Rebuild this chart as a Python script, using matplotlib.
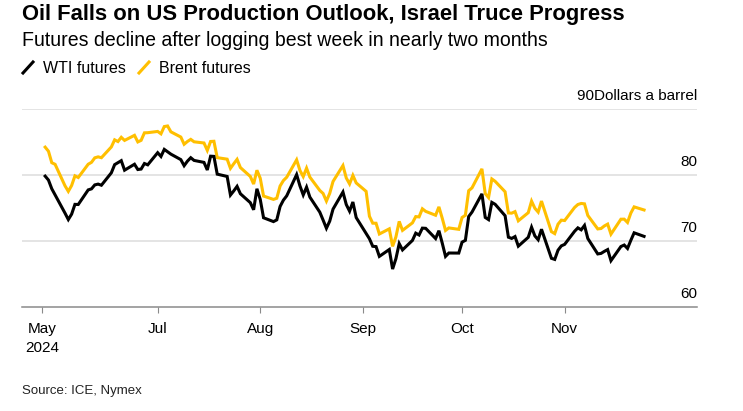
"""WTI vs Brent front-month futures, late May to late Nov 2024 (Bloomberg-style line chart)."""

import matplotlib

matplotlib.use("Agg")
import matplotlib.dates as mdates
import matplotlib.pyplot as plt
import matplotlib.transforms as mtransforms
import pandas as pd
from matplotlib.lines import Line2D

W, H = 743, 411

# ICE Brent trades on US holidays, Nymex WTI does not settle on them
us_holidays = ["2024-06-19", "2024-07-04", "2024-09-02"]
brent_dates = pd.bdate_range("2024-05-28", "2024-11-25")
wti_dates = brent_dates.drop(pd.to_datetime(us_holidays))

wti = [
    79.83, 79.23, 77.91, 76.99,                                     # May
    74.22, 73.25, 74.07, 75.55, 75.53, 77.74, 77.90, 78.50, 78.62,
    78.45, 80.33, 81.57, 82.17, 80.73, 81.63, 80.83, 80.90, 81.74,
    81.54,                                                          # Jun
    83.38, 82.81, 83.88, 83.16, 82.33, 81.41, 82.10, 82.62, 82.21,
    81.91, 80.76, 82.85, 82.82, 80.13, 79.78, 76.96, 77.59, 78.28,
    77.16, 75.81, 74.73, 77.91,                                     # Jul
    76.31, 73.52, 72.94, 73.20, 75.23, 76.19, 76.84, 80.06, 78.35,
    76.98, 78.16, 76.65, 74.37, 73.17, 71.93, 73.01, 74.83, 77.42,
    75.53, 74.52, 75.91, 73.55,                                     # Aug
    70.34, 69.20, 69.15, 67.67, 68.71, 65.75, 67.31, 69.60, 68.65,
    70.09, 71.19, 70.91, 71.95, 71.92, 70.37, 71.56, 69.69, 67.67,
    68.18, 68.17,                                                   # Sep
    69.83, 70.10, 73.71, 74.38, 77.14, 73.57, 73.24, 75.85, 75.56,
    73.83, 70.58, 70.39, 70.67, 69.22, 70.56, 72.09, 70.77, 70.19,
    71.78, 67.38, 67.21, 68.61, 69.26,                              # Oct
    69.49, 71.47, 71.99, 71.69, 72.36, 70.38, 68.04, 68.12, 68.43,
    68.70, 67.02, 69.16, 69.39, 68.87, 70.10, 71.24, 70.70,         # Nov
]

brent = [
    84.22, 83.60, 81.86, 81.62,                                     # May
    78.36, 77.52, 78.41, 79.87, 79.62, 81.63, 81.92, 82.60, 82.75,
    82.62, 84.25, 85.33, 85.07, 85.71, 85.24, 86.01, 85.01, 85.25,
    86.39, 86.41,                                                   # Jun
    86.60, 86.24, 87.34, 87.43, 86.54, 85.75, 84.66, 85.08, 85.40,
    85.03, 84.85, 83.73, 85.08, 85.11, 82.63, 82.40, 81.01, 81.71,
    82.37, 81.13, 79.78, 78.63, 80.72,                              # Jul
    79.52, 76.81, 76.30, 76.48, 78.33, 79.16, 79.66, 82.30, 80.69,
    79.76, 81.04, 79.68, 77.66, 77.20, 76.05, 77.22, 79.02, 81.43,
    79.55, 78.65, 79.94, 78.80,                                     # Aug
    77.52, 73.75, 72.70, 72.69, 71.06, 71.84, 69.19, 70.61, 72.97,
    71.61, 72.75, 73.70, 73.65, 74.88, 74.49, 73.90, 75.17, 73.46,
    71.60, 71.98, 71.77,                                            # Sep
    73.56, 73.90, 77.62, 78.05, 80.93, 77.18, 76.58, 79.40, 79.04,
    77.46, 74.25, 74.22, 74.45, 73.06, 74.29, 76.04, 74.96, 74.38,
    76.05, 71.42, 71.12, 72.55, 73.16,                              # Oct
    73.10, 75.08, 75.53, 75.69, 75.63, 73.87, 71.83, 71.89, 72.28,
    72.56, 71.04, 73.30, 73.31, 72.81, 74.23, 75.17, 74.70,         # Nov
]

y_ticks = [60, 70, 80, 90]
y_unit = "Dollars a barrel"
month_ticks = ["2024-05-27", "2024-07-01", "2024-08-01", "2024-09-01",
               "2024-10-01", "2024-11-01"]
month_labels = ["May\n2024", "Jul", "Aug", "Sep", "Oct", "Nov"]

WTI_COLOR = "#000000"
BRENT_COLOR = "#FFBF00"
GRID = "#dcdcdc"
BASE = "#8a8a8a"
FONT = "Liberation Sans"
LW = 2.2


def px(x, y):
    """Pixel position (from top-left) to figure fraction."""
    return x / W, 1 - y / H


def fit_width(fig, txt, target):
    w = txt.get_window_extent(fig.canvas.get_renderer()).width
    txt.set_fontsize(txt.get_fontsize() * target / w)


def main():
    assert len(wti) == len(wti_dates) and len(brent) == len(brent_dates)
    plt.rcParams["font.family"] = [FONT, "DejaVu Sans"]
    fig = plt.figure(figsize=(W / 100, H / 100), dpi=100)

    left, right, top, bottom = 22, 697, 109, 307
    ax = fig.add_axes([left / W, 1 - bottom / H, (right - left) / W, (bottom - top) / H])
    ax.plot(wti_dates, wti, color=WTI_COLOR, lw=LW, solid_joinstyle="miter", zorder=3)
    ax.plot(brent_dates, brent, color=BRENT_COLOR, lw=LW, solid_joinstyle="miter", zorder=2)

    ax.set_ylim(60, 90)
    ax.set_xlim(pd.Timestamp("2024-05-21"), pd.Timestamp("2024-12-11"))
    for side in ("top", "right", "left"):
        ax.spines[side].set_visible(False)
    ax.spines["bottom"].set_color(BASE)
    ax.spines["bottom"].set_linewidth(1.1)
    for v in y_ticks[1:]:
        ax.axhline(v, color=GRID, lw=1.1, zorder=0)
    ax.set_yticks([])

    ax.set_xticks(mdates.date2num(pd.to_datetime(month_ticks)))
    ax.set_xticklabels(month_labels, fontsize=11, linespacing=1.45)
    ax.tick_params(axis="x", direction="out", length=4, width=0.8, color=BASE, pad=7)

    # right-side value labels, sitting just above their gridlines
    lab_tr = mtransforms.offset_copy(ax.get_yaxis_transform(), fig=fig, y=9, units="dots")
    for v in y_ticks:
        label = f"{v}{y_unit}" if v == y_ticks[-1] else str(v)
        ax.text(1.0, v, label, transform=lab_tr, ha="right", va="baseline", fontsize=11)

    title = fig.text(*px(22, 20), "Oil Falls on US Production Outlook, Israel Truce Progress",
                     fontsize=14, fontweight="bold", va="baseline")
    sub = fig.text(*px(22, 46), "Futures decline after logging best week in nearly two months",
                   fontsize=12.5, va="baseline")
    fit_width(fig, title, 605)
    fit_width(fig, sub, 526)

    # legend: slanted strokes + labels
    for x0, color, label in ((23, WTI_COLOR, "WTI futures"), (139, BRENT_COLOR, "Brent futures")):
        fig.add_artist(Line2D([x0 / W, (x0 + 10) / W], [1 - 73 / H, 1 - 62 / H],
                              transform=fig.transFigure, color=color, lw=LW))
        fig.text(*px(x0 + 20, 73), label, fontsize=11.5, va="baseline")

    fig.text(*px(22, 394), "Source: ICE, Nymex", fontsize=9.5, color="#222222", va="baseline")

    fig.savefig("out.png", dpi=100)


if __name__ == "__main__":
    main()
